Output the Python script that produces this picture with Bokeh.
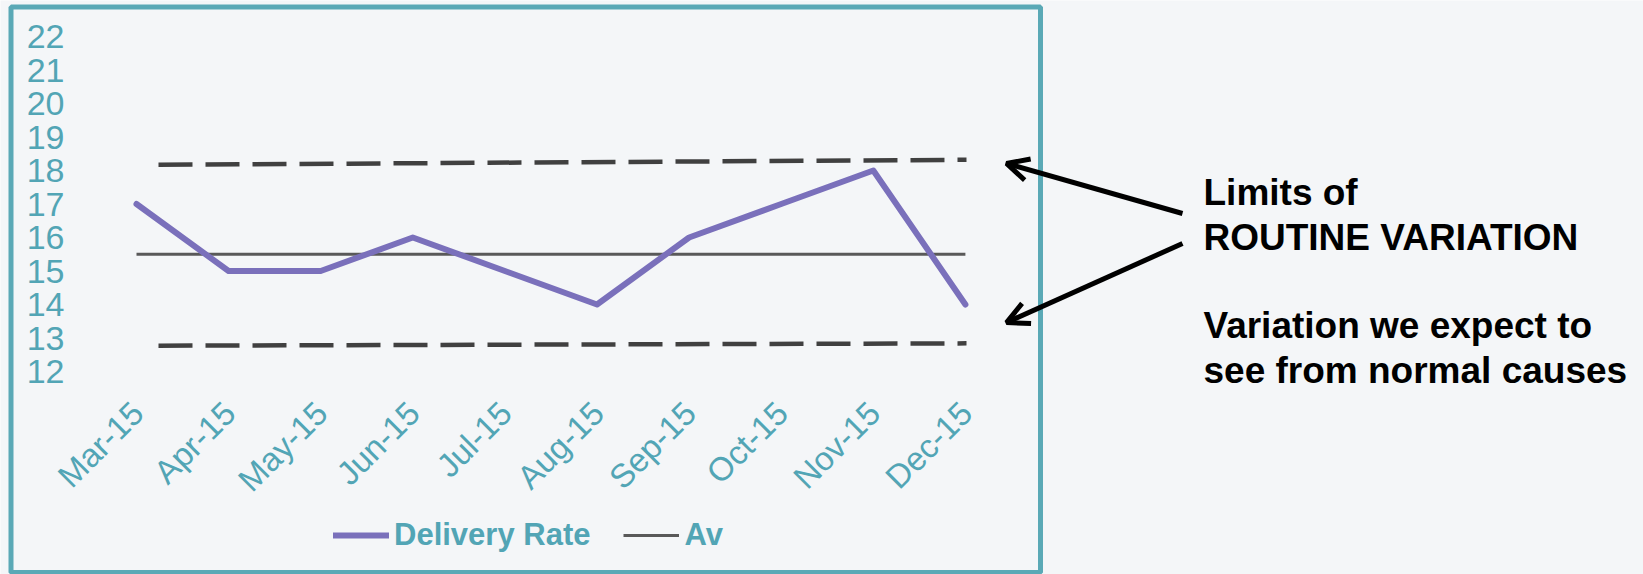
import math
from bokeh.plotting import figure
from bokeh.models import Range1d, Legend, LegendItem, Arrow, OpenHead
from bokeh.core.properties import value
from bokeh.embed import file_html
from bokeh.resources import INLINE

# ---------------- data ----------------
months = ["Mar-15", "Apr-15", "May-15", "Jun-15", "Jul-15",
          "Aug-15", "Sep-15", "Oct-15", "Nov-15", "Dec-15"]
delivery_rate = [17, 15, 15, 16, 15, 14, 16, 17, 18, 14]
average = [15.5, 15.5, 15.5, 15.5, 15.5, 15.5, 15.5, 15.5, 15.5, 15.5]
upper_limit = [18.17, 18.32]   # start / end of the upper limit line
lower_limit = [12.77, 12.84]   # start / end of the lower limit line
y_ticks = [12, 13, 14, 15, 16, 17, 18, 19, 20, 21, 22]
note_lines = ["Limits of", "ROUTINE VARIATION",
              "Variation we expect to", "see from normal causes"]

# ---------------- layout ----------------
W, H = 1643, 574
X0_PX, X_STEP = 136.0, 92.1      # pixel of first month, px per month
Y12_PX, Y_STEP = 371.0, 33.5     # pixel of value 12, px per unit


def xd(px):
    return (px - X0_PX) / X_STEP


def yd(py):
    return 12 + (Y12_PX - py) / Y_STEP


TEAL_TEXT = "#52A5B5"
TEAL_BORDER = "#5AA9B6"
PURPLE = "#7A70BB"
AV_COLOR = "#595959"
LIMIT_COLOR = "#404040"
BG = "#F4F6F8"
FONT = value("Liberation Sans")

idx = list(range(len(months)))

p = figure(width=W, height=H,
           x_range=Range1d(xd(0), xd(W)), y_range=Range1d(yd(H), yd(0)),
           x_axis_type=None, y_axis_type=None,
           toolbar_location=None, output_backend="svg",
           min_border=0, title=None)
p.outline_line_color = None
p.background_fill_color = BG
p.border_fill_color = BG

# chart border
p.quad(left=xd(10.5), right=xd(1040), top=yd(6.5), bottom=yd(572),
       fill_color=None, line_color=TEAL_BORDER, line_width=5)

# routine variation limits
limit_x = [xd(158), xd(966)]
p.line(limit_x, upper_limit, line_color=LIMIT_COLOR, line_width=4.5, line_dash="34 13")
p.line(limit_x, lower_limit, line_color=LIMIT_COLOR, line_width=4.5, line_dash="34 13")

# series
r_av = p.line(idx, average, line_color=AV_COLOR, line_width=3)
r_del = p.line(idx, delivery_rate, line_color=PURPLE, line_width=6,
               line_join="round", line_cap="round")

# y tick labels
p.text(x=[xd(64)] * len(y_ticks), y=y_ticks, text=[str(t) for t in y_ticks],
       text_align="right", text_baseline="middle", text_font=FONT,
       text_font_size="34px", text_color=TEAL_TEXT)

# x tick labels
p.text(x=idx, y=[yd(407)] * len(idx), text=months, angle=math.pi / 4,
       x_offset=1, text_align="right", text_baseline="middle", text_font=FONT,
       text_font_size="33px", text_color=TEAL_TEXT)

# legend
legend = Legend(items=[LegendItem(label="Delivery Rate", renderers=[r_del]),
                       LegendItem(label="Av", renderers=[r_av])],
                orientation="horizontal", location=(333, 21),
                label_text_font="Liberation Sans", label_text_font_size="31px",
                label_text_font_style="bold", label_text_color=TEAL_TEXT,
                glyph_width=56, glyph_height=30, label_standoff=5, spacing=33,
                padding=0, margin=0, background_fill_alpha=0,
                border_line_color=None)
p.add_layout(legend)

# annotation text
p.text(x=[xd(1203)] * len(note_lines), y=[yd(192), yd(237), yd(325), yd(370)],
       text=note_lines, text_align="left", text_baseline="alphabetic",
       text_font=FONT, text_font_style="bold", text_font_size="37px",
       text_color="black")

# arrows
for (sx, sy, ex, ey) in [(1182, 213, 1006, 163), (1182, 243, 1006, 322)]:
    p.add_layout(Arrow(end=OpenHead(size=22, line_width=5, line_color="black"),
                       x_start=xd(sx), y_start=yd(sy), x_end=xd(ex), y_end=yd(ey),
                       line_width=5, line_color="black"))

open("out.html", "w").write(file_html(p, INLINE))
